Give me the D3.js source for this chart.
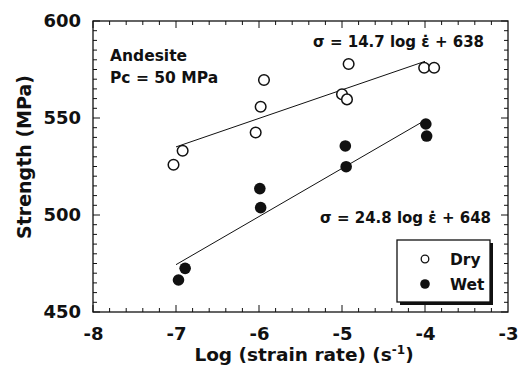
<!DOCTYPE html>
<html><head><meta charset="utf-8">
<script src="https://cdn.jsdelivr.net/npm/d3@7/dist/d3.min.js"></script>
<style>body{margin:0;background:#fff}svg{display:block}text{font-family:"DejaVu Sans",sans-serif;font-weight:bold;fill:#111}</style>
</head><body>
<script>
const dryX = [-7.03, -6.92, -6.04, -5.98, -5.94, -5.00, -4.94, -4.92, -4.01, -3.89];
const dryY = [525.9, 533.1, 542.5, 555.8, 569.6, 562.2, 559.6, 577.8, 575.9, 575.9];
const wetX = [-6.97, -6.89, -5.99, -5.98, -4.96, -4.95, -3.99, -3.98];
const wetY = [466.5, 472.5, 513.6, 503.8, 535.6, 524.9, 546.9, 540.7];
const dryFit = {slope: 14.7, intercept: 638};
const wetFit = {slope: 24.8, intercept: 648};
const fitRange = [-7, -4];
const xTicks = [-8, -7, -6, -5, -4, -3];
const yTicks = [450, 500, 550, 600];

const W = 523, H = 376;
const m = {l: 93, r: 508, t: 21, b: 312};
const svg = d3.select("body").append("svg").attr("width", W).attr("height", H);
const x = d3.scaleLinear().domain([-8, -3]).range([m.l, m.r]);
const y = d3.scaleLinear().domain([450, 600]).range([m.b, m.t]);

// minor ticks
const xMinor = d3.range(-8, -3.0001, 0.2).map(v => +v.toFixed(2));
const yMinor = d3.range(450, 600.001, 5);
const g = svg.append("g").attr("stroke", "#111").attr("stroke-width", 1);
xMinor.forEach(v => {
  const major = Math.abs(v - Math.round(v)) < 1e-6;
  const L = major ? 7 : 4;
  g.append("line").attr("x1", x(v)).attr("x2", x(v)).attr("y1", m.b).attr("y2", m.b - L);
  g.append("line").attr("x1", x(v)).attr("x2", x(v)).attr("y1", m.t).attr("y2", m.t + L);
});
yMinor.forEach(v => {
  const major = v % 50 === 0;
  const L = major ? 7 : 4;
  g.append("line").attr("y1", y(v)).attr("y2", y(v)).attr("x1", m.l).attr("x2", m.l + L);
  g.append("line").attr("y1", y(v)).attr("y2", y(v)).attr("x1", m.r).attr("x2", m.r - L);
});
svg.append("rect").attr("x", m.l).attr("y", m.t).attr("width", m.r - m.l).attr("height", m.b - m.t)
  .attr("fill", "none").attr("stroke", "#111").attr("stroke-width", 1.3);

// tick labels via axes (no lines)
const xAxis = svg.append("g").attr("transform", `translate(0,${m.b})`)
  .call(d3.axisBottom(x).tickValues(xTicks).tickSize(0).tickPadding(11).tickFormat(d => String(d)));
xAxis.select(".domain").remove();
xAxis.selectAll("text").attr("font-size", 18).attr("font-family", "DejaVu Sans").attr("font-weight", "bold").attr("fill", "#111").attr("dy", "0.95em");
const yAxis = svg.append("g").attr("transform", `translate(${m.l},0)`)
  .call(d3.axisLeft(y).tickValues(yTicks).tickSize(0).tickPadding(12));
yAxis.select(".domain").remove();
yAxis.selectAll("text").attr("font-size", 18).attr("font-family", "DejaVu Sans").attr("font-weight", "bold").attr("fill", "#111");

// titles
const xt = svg.append("text").attr("x", 304).attr("y", 361).attr("text-anchor", "middle").attr("font-size", 18.5);
xt.append("tspan").text("Log (strain rate) (s");
xt.append("tspan").attr("dy", -7).attr("font-size", 12).text("-1");
xt.append("tspan").attr("dy", 7).text(")");
svg.append("text").attr("transform", "translate(31,157) rotate(-90)").attr("text-anchor", "middle")
  .attr("font-size", 19).text("Strength (MPa)");

// fit lines
const fit = (f) => fitRange.map(v => [x(v), y(f.slope * v + f.intercept)]);
const line = d3.line();
svg.append("path").attr("d", line(fit(dryFit))).attr("stroke", "#111").attr("fill", "none").attr("stroke-width", 1);
svg.append("path").attr("d", line(fit(wetFit))).attr("stroke", "#111").attr("fill", "none").attr("stroke-width", 1);

// points
svg.append("g").selectAll("circle").data(dryX).join("circle")
  .attr("cx", d => x(d)).attr("cy", (d, i) => y(dryY[i])).attr("r", 5.3)
  .attr("fill", "#fff").attr("stroke", "#111").attr("stroke-width", 1.5);
svg.append("g").selectAll("circle").data(wetX).join("circle")
  .attr("cx", d => x(d)).attr("cy", (d, i) => y(wetY[i])).attr("r", 5.8)
  .attr("fill", "#111");

// annotations
svg.append("text").attr("x", 110).attr("y", 61).attr("font-size", 15.5).text("Andesite");
svg.append("text").attr("x", 110).attr("y", 83).attr("font-size", 15.5).text("Pc = 50 MPa");
svg.append("text").attr("x", 313).attr("y", 47).attr("font-size", 15).text("σ = 14.7 log ε̇ + 638");
svg.append("text").attr("x", 320).attr("y", 223).attr("font-size", 15).text("σ = 24.8 log ε̇ + 648");

// legend
const lg = svg.append("g");
lg.append("rect").attr("x", 400).attr("y", 243).attr("width", 93).attr("height", 62).attr("fill", "#111");
lg.append("rect").attr("x", 397).attr("y", 240).attr("width", 93).attr("height", 62).attr("fill", "#fff").attr("stroke", "#111").attr("stroke-width", 1.3);
lg.append("circle").attr("cx", 425).attr("cy", 259).attr("r", 3.8).attr("fill", "#fff").attr("stroke", "#111").attr("stroke-width", 1.3);
lg.append("circle").attr("cx", 425).attr("cy", 284).attr("r", 4.8).attr("fill", "#111");
lg.append("text").attr("x", 450).attr("y", 265).attr("font-size", 15.5).text("Dry");
lg.append("text").attr("x", 450).attr("y", 290).attr("font-size", 15.5).text("Wet");
</script>
</body></html>
